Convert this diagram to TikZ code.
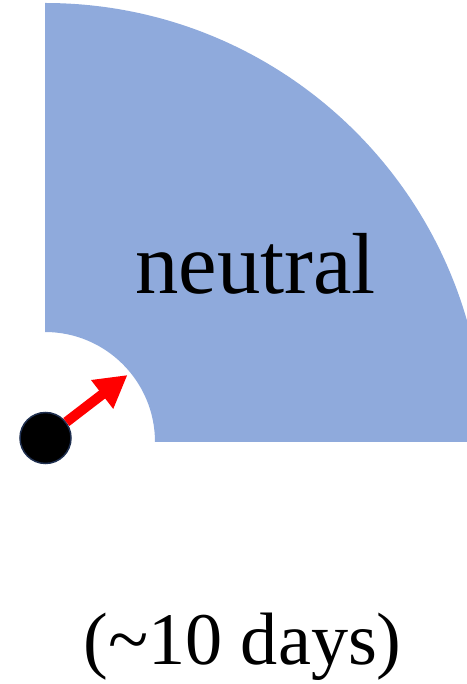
\documentclass[tikz,border=0pt]{standalone}
\usepackage{fontspec}
\setmainfont{Liberation Serif}
\usepackage{xcolor}
\definecolor{cFill}{HTML}{8FAADC}
\definecolor{cArrow}{HTML}{FF0000}
\definecolor{cDot}{HTML}{1F2F4F}
\usetikzlibrary{arrows.meta}
\tikzset{
  node-dot/.style={circle,fill=black,draw=cDot,line width=1.5bp,
    minimum size=51bp,inner sep=0pt},
  node-label/.style={anchor=base,inner sep=0pt},
  arrow-push/.style={-{Triangle[length=32bp,width=34bp]},line width=10bp,draw=cArrow},
}
\begin{document}
\begin{tikzpicture}[x=1bp,y=1bp]
  \useasboundingbox (0,0) rectangle (467,684);
  % quarter ring, cut at the right edge
  \begin{scope}
    \clip (0,0) rectangle (467,684);
    \fill[cFill] (155,242) -- (484,242) arc[start angle=0,end angle=90,radius=439]
      -- (45,352) arc[start angle=90,end angle=0,radius=110] -- cycle;
  \end{scope}
  \node[node-label,font=\fontsize{87}{100}\selectfont] (neutral) at (255.5,390) {neutral};
  \node[node-label,font=\fontsize{74.5}{90}\selectfont] (time) at (242.5,19) {(\textasciitilde10 days)};
  \coordinate (tip) at (127.5,309);
  \node[node-dot] (dot) at (45.5,246) {};
  \draw[arrow-push] (dot) -- (tip);
\end{tikzpicture}
\end{document}
